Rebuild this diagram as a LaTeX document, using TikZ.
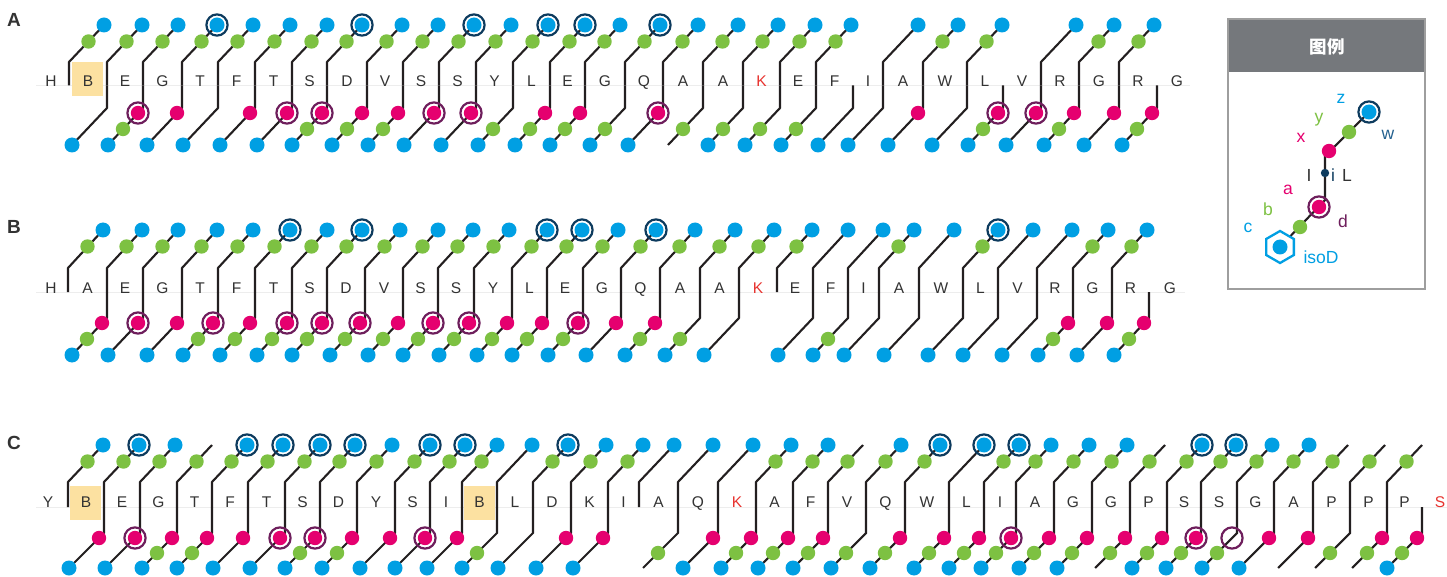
\documentclass[tikz,border=0pt]{standalone}
\usepackage{fontspec}
\setmainfont{Liberation Sans}
\newfontfamily\cjk{Noto Sans CJK SC}
\definecolor{cz}{HTML}{009FE3}
\definecolor{cg}{HTML}{7DC142}
\definecolor{cp}{HTML}{E5006F}
\definecolor{cw}{HTML}{0D3B5E}
\definecolor{cd}{HTML}{6E1E5C}
\definecolor{cl}{HTML}{231F20}
\definecolor{cred}{HTML}{E8332F}
\definecolor{chl}{HTML}{FCE1A1}
\definecolor{ctx}{HTML}{333333}
\definecolor{chead}{HTML}{75787C}
\definecolor{cwl}{HTML}{24618F}
\tikzset{
  ln/.style={draw=cl, line width=2.1pt},
  ringw/.style={draw=cw, line width=2.2pt},
  ringd/.style={draw=cd, line width=2.2pt},
  lt/.style={font=\fontsize{15.5}{18}\selectfont, text=ctx, inner sep=0pt, anchor=base},
  panel/.style={font=\bfseries\fontsize{19}{20}\selectfont, text=ctx, inner sep=0pt},
  leg/.style={font=\fontsize{17.5}{19}\selectfont, inner sep=0pt},
  faint/.style={draw=black!7, line width=0.5pt}
}
% #1 x, #2 top (0 none,1 line,2 blue,3 ring), #3 top green, #4 pink (0,1 dot,2 ringed,3 empty ring), #5 bottom green, #6 bottom blue
\newcommand\sepm[6]{%
  \ifnum#2>0 \draw[ln] (#1,\Ym) -- (#1,\Yvt) -- (#1+35,\Ytb);\fi
  \ifnum\numexpr#4+#5+#6\relax>0 \draw[ln] (#1,\Ym) -- (#1,\Yvb) -- (#1-35,\Ybb);\fi
  \ifnum#3=1 \fill[cg] (#1+19.5,\Ytg) circle[radius=7.2pt];\fi
  \ifnum#2=2 \fill[cz] (#1+35,\Ytb) circle[radius=7.5pt];\fi
  \ifnum#2=3 \draw[ringw] (#1+35,\Ytb) circle[radius=10.6pt]; \fill[cz] (#1+35,\Ytb) circle[radius=7.5pt];\fi
  \ifnum#4=1 \fill[cp] (#1-5,\Yvb+5) circle[radius=7.2pt];\fi
  \ifnum#4=2 \draw[ringd] (#1-5,\Yvb+5) circle[radius=10.6pt]; \fill[cp] (#1-5,\Yvb+5) circle[radius=7.2pt];\fi
  \ifnum#4=3 \draw[ringd] (#1-5,\Yvb+5) circle[radius=10.6pt];\fi
  \ifnum#5=1 \fill[cg] (#1-20,\Ybg) circle[radius=7.2pt];\fi
  \ifnum#6=1 \fill[cz] (#1-35,\Ybb) circle[radius=7.5pt];\fi
}
\begin{document}
\begin{tikzpicture}[x=1pt,y=-1pt]
\useasboundingbox (0,0) rectangle (1447,577);
\fill[white] (0,0) rectangle (1447,577);

% ---------------- Row A ----------------
\node[panel] (pA) at (14,20) {A};
\draw[faint] (36,85.5) -- (1190,85.5);
\fill[chl] (72,62) rectangle (103,96);
\def\Ytb{25}\def\Ytg{41.5}\def\Yvt{62}\def\Ym{85.5}\def\Yvb{108}\def\Ybg{129}\def\Ybb{145}
\foreach \PX/\PT/\PG/\PP/\PQ/\PC in {
 69/2/1/0/0/0, 107/2/1/0/0/1, 143/2/1/2/1/1, 182/3/1/1/0/1, 218/2/1/0/0/1,
 255/2/1/1/0/1, 292/2/1/2/0/1, 327/3/1/2/1/1, 367/2/1/1/1/1, 403/2/1/1/1/1,
 439/3/1/2/0/1, 476/2/1/2/0/1, 513/3/1/0/1/1, 550/3/1/1/1/1, 585/2/1/1/1/1,
 625/3/1/0/1/1, 663/2/1/2/0/1, 703/2/1/0/1/0, 743/2/1/0/1/1, 780/2/1/0/1/1,
 816/2/1/0/1/1, 853/0/0/0/0/1, 883/2/0/0/0/1, 923/2/1/1/0/1, 967/2/1/0/0/1,
 1003/0/0/2/1/1, 1041/2/0/2/0/1, 1079/2/1/1/1/1, 1119/2/1/1/0/1, 1157/0/0/1/1/1}
 {\sepm{\PX}{\PT}{\PG}{\PP}{\PQ}{\PC}}
\foreach \LX/\LT in {51/H, 88/B, 125/E, 162.5/G, 200/T, 236.5/F, 273.5/T, 309.5/S, 347/D, 385/V,
 421/S, 457.5/S, 494.5/Y, 531.5/L, 567.5/E, 605/G, 644/Q, 683/A, 723/A,
 798/E, 834.5/F, 868/I, 903/A, 945/W, 985/L, 1022/V, 1060/R, 1099/G, 1138/R, 1177/G}
 {\node[lt] at (\LX,87) {\LT};}
\node[lt, text=cred] (kA) at (761.5,87) {K};

% ---------------- Row B ----------------
\node[panel] (pB) at (14,227) {B};
\draw[faint] (36,292) -- (1185,292);
\def\Ytb{230}\def\Ytg{246.5}\def\Yvt{268}\def\Ym{292}\def\Yvb{318}\def\Ybg{339}\def\Ybb{355}
\foreach \PX/\PT/\PG/\PP/\PQ/\PC in {
 68/2/1/0/0/0, 107/2/1/1/1/1, 143/2/1/2/0/1, 182/2/1/1/0/1, 218/2/1/2/1/1,
 255/3/1/1/1/1, 292/2/1/2/1/1, 327/3/1/2/1/1, 365/2/1/2/1/1, 403/2/1/1/1/1,
 438/2/1/2/1/1, 474/2/1/2/1/1, 512/3/1/1/1/1, 547/3/1/1/1/1, 583/2/1/2/1/1,
 621/3/1/1/0/1, 660/2/1/1/1/1, 700/2/1/0/1/1, 739/2/1/0/0/1, 777/2/1/0/0/0,
 813/2/0/0/0/1, 848/2/0/0/1/1, 879/2/1/0/0/1, 919/2/0/0/0/1, 963/3/1/0/0/1,
 998/2/0/0/0/1, 1037/2/0/0/0/1, 1073/2/1/1/1/1, 1112/2/1/1/0/1, 1149/0/0/1/1/1}
 {\sepm{\PX}{\PT}{\PG}{\PP}{\PQ}{\PC}}
\foreach \LX/\LT in {51/H, 87.5/A, 125/E, 162.5/G, 200/T, 236.5/F, 273.5/T, 309.5/S, 346/D, 384/V,
 420.5/S, 456/S, 493/Y, 529.5/L, 565/E, 602/G, 640.5/Q, 680/A, 719.5/A,
 795/E, 830.5/F, 863.5/I, 899/A, 941/W, 980.5/L, 1017.5/V, 1055/R, 1092.5/G, 1130.5/R, 1170/G}
 {\node[lt] at (\LX,293) {\LT};}
\node[lt, text=cred] (kB) at (758,293) {K};

% ---------------- Row C ----------------
\node[panel] (pC) at (14,443) {C};
\draw[faint] (36,507) -- (1447,507);
\fill[chl] (70,486) rectangle (101,520);
\fill[chl] (464,486) rectangle (495,520);
\def\Ytb{445}\def\Ytg{461.5}\def\Yvt{482}\def\Ym{507}\def\Yvb{533}\def\Ybg{553}\def\Ybb{568}
\foreach \PX/\PT/\PG/\PP/\PQ/\PC in {
 68/2/1/0/0/0, 104/3/1/1/0/1, 140/2/1/2/0/1, 177/1/1/1/1/1, 212/3/1/1/1/1,
 248/3/1/1/0/1, 285/3/1/2/0/1, 320/3/1/2/1/1, 357/2/1/1/1/1, 395/3/1/1/0/1,
 430/3/1/2/0/1, 462/2/1/1/0/1, 497/2/0/0/1/1, 533/3/1/0/0/1, 571/2/1/1/0/1,
 608/2/1/1/0/1, 639/2/0/0/0/0, 678/2/0/0/1/0, 718/2/0/1/0/1, 756/2/1/1/1/1,
 793/2/1/1/1/1, 828/1/1/1/1/1, 866/2/1/0/1/1, 905/3/1/1/1/1, 949/3/0/1/1/1,
 984/3/1/1/1/1, 1016/2/1/2/1/1, 1054/2/1/1/1/1, 1092/2/1/1/1/1, 1130/1/1/1/1/0,
 1167/3/1/1/1/1, 1201/3/1/2/1/1, 1237/2/1/3/1/1, 1274/2/1/1/0/1, 1313/1/1/1/0/0,
 1350/1/1/0/1/0, 1387/1/1/1/1/0, 1422/0/0/1/1/1}
 {\sepm{\PX}{\PT}{\PG}{\PP}{\PQ}{\PC}}
\foreach \LX/\LT in {48/Y, 86/B, 122/E, 158.5/G, 194.5/T, 230/F, 266.5/T, 302.5/S, 338.5/D, 376/Y,
 412.5/S, 446/I, 479.5/B, 515/L, 552/D, 589.5/K, 623.5/I, 658.5/A, 698/Q,
 774.5/A, 810.5/F, 847/V, 885.5/Q, 927/W, 966.5/L, 1000/I, 1035/A, 1073/G, 1111/G,
 1148.5/P, 1184/S, 1219/S, 1255.5/G, 1293.5/A, 1331.5/P, 1368.5/P, 1404.5/P}
 {\node[lt] at (\LX,507.5) {\LT};}
\node[lt, text=cred] (kC) at (737,507.5) {K};
\node[lt, text=cred] (sC) at (1440,507.5) {S};

% ---------------- Legend ----------------
\fill[white] (1228,19) rectangle (1425,289);
\fill[chead] (1228,19) rectangle (1425,72);
\draw[black!38, line width=1.2pt] (1228,19) rectangle (1425,289);
\node[font=\cjk\bfseries\fontsize{17.5}{19}\selectfont, text=white] (title) at (1327,47) {图例};
\coordinate (lw) at (1369,112);
\coordinate (lk1) at (1325,156);
\coordinate (lk2) at (1325,200);
\coordinate (lc) at (1280,247);
\draw[ln] (lw) -- (lk1) -- (lk2) -- (lc);
\draw[ringw] (lw) circle[radius=10.6pt];
\fill[cz] (lw) circle[radius=7.5pt];
\fill[cg] (1349,132) circle[radius=7.2pt];
\fill[cp] (1329,151) circle[radius=7.2pt];
\fill[cw] (1325,173) circle[radius=4.2pt];
\draw[ringd] (1319,207) circle[radius=10.6pt];
\fill[cp] (1319,207) circle[radius=7.2pt];
\fill[cg] (1300,227) circle[radius=7.2pt];
\draw[cz, line width=2.3pt, fill=white] (lc) +(90:16pt) -- +(150:16pt) -- +(210:16pt) -- +(270:16pt) -- +(330:16pt) -- +(30:16pt) -- cycle;
\fill[cz] (lc) circle[radius=7.5pt];
\node[leg, text=cz] (lz) at (1341,99) {z};
\node[leg, text=cg] (ly) at (1319,120) {y};
\node[leg, text=cp] (lx) at (1301,138) {x};
\node[leg, text=cwl] (lwl) at (1388,135) {w};
\node[leg, text=ctx] (lI) at (1309,175) {I};
\node[leg, text=cw] (li) at (1333,175) {i};
\node[leg, text=ctx] (lL) at (1347,175) {L};
\node[leg, text=cp] (la) at (1288,190) {a};
\node[leg, text=cg] (lb) at (1268,209) {b};
\node[leg, text=cz] (lcc) at (1248,228) {c};
\node[leg, text=cd] (ld) at (1343,221) {d};
\node[leg, text=cz] (liso) at (1321,257) {isoD};
\end{tikzpicture}
\end{document}
